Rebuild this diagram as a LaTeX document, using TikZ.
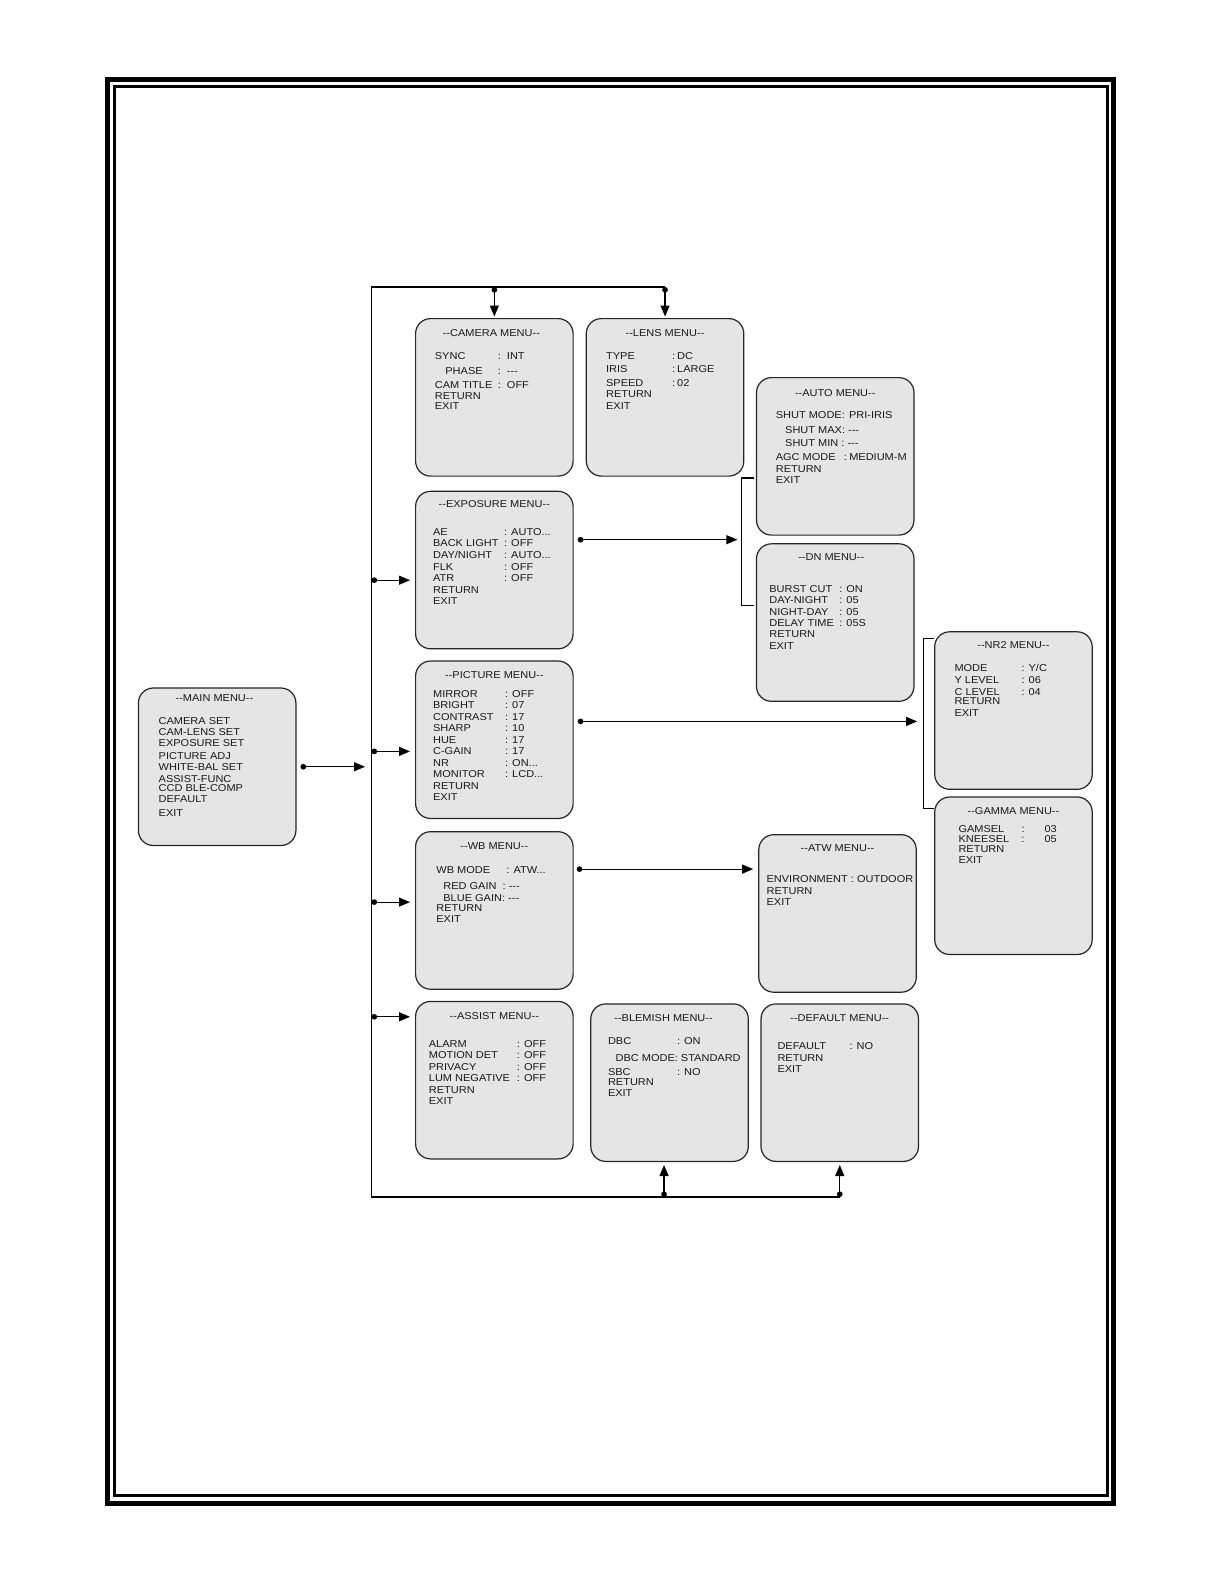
\documentclass[tikz,border=0pt]{standalone}
\usepackage{fontspec}
\usepackage{tikz}
\usetikzlibrary{arrows.meta, positioning, calc}

\newfontfamily\menufont[FakeStretch=1.1]{Liberation Sans}
% rows of a menu: baseline skip, label column width, rows
\newcommand\menurows[3]{\fontsize{5}{#1}\selectfont\begin{tabular}[t]{@{}p{#2}@{}l@{}}#3\end{tabular}}

\begin{document}
\begin{tikzpicture}[
    x=0.5pt, y=-0.5pt,
    menubox/.style={rectangle, draw=black!85, fill=black!10, line width=0.6pt, rounded corners=7.5pt, minimum width=78.75pt, minimum height=78.75pt, inner sep=0pt},
    menutitle/.style={font=\menufont\fontsize{5}{6}\selectfont, text=black!90, anchor=base, inner sep=0pt},
    menutext/.style={font=\menufont, text=black!90, anchor=base west, inner sep=0pt},
    tap/.style={{Circle[length=2.8pt]}-{Triangle[length=5.5pt, width=4.5pt]}, line width=0.6pt},
    wire/.style={line width=0.6pt}
]
\useasboundingbox (0,0) rectangle (1225,1585);

% Page frame
\draw[line width=2.5pt] (107.5,79.5) rectangle (1113.5,1503);
\draw[line width=1.5pt] (114.5,86.5) rectangle (1107,1495.5);

% Menu boxes
\node[menubox, anchor=north west] (cam) at (415,318) {};
\node[menubox, right=6pt of cam] (lens) {};
\node[menubox, below=7pt of cam] (exp) {};
\node[menubox, below=5.5pt of exp] (pic) {};
\node[menubox, below=6pt of pic] (wb) {};
\node[menubox, below=5.5pt of wb] (assist) {};
\node[menubox, right=8.25pt of assist, yshift=-1.25pt] (blemish) {};
\node[menubox, right=5.75pt of blemish] (dflt) {};
\node[menubox, below right=29.5pt and 5.75pt of lens.north east] (auto) {};
\node[menubox, below=3.75pt of auto] (dn) {};
\node[menubox, below right=44pt and 9.75pt of dn.north east] (nr2) {};
\node[menubox, below=3.25pt of nr2] (gamma) {};
\node[menubox, below right=1.5pt and 92.25pt of wb.north east] (atw) {};
\node[menubox, below left=13.5pt and 59.25pt of pic.north west] (main) {};

% Titles
\node[menutitle] (maintitle) at ([shift={(-2.7,13.6)}]main.north) {-{}-MAIN MENU-{}-};
\node[menutitle] (camtitle) at ([shift={(-3,18.6)}]cam.north) {-{}-CAMERA MENU-{}-};
\node[menutitle] (lenstitle) at ([shift={(0,18.6)}]lens.north) {-{}-LENS MENU-{}-};
\node[menutitle] (autotitle) at ([shift={(0,19)}]auto.north) {-{}-AUTO MENU-{}-};
\node[menutitle] (exptitle) at ([shift={(0,17)}]exp.north) {-{}-EXPOSURE MENU-{}-};
\node[menutitle] (dntitle) at ([shift={(-4,17.6)}]dn.north) {-{}-DN MENU-{}-};
\node[menutitle] (pictitle) at ([shift={(0,18.3)}]pic.north) {-{}-PICTURE MENU-{}-};
\node[menutitle] (nr2title) at ([shift={(0,17.6)}]nr2.north) {-{}-NR2 MENU-{}-};
\node[menutitle] (gammatitle) at ([shift={(0,18)}]gamma.north) {-{}-GAMMA MENU-{}-};
\node[menutitle] (wbtitle) at ([shift={(0,18.6)}]wb.north) {-{}-WB MENU-{}-};
\node[menutitle] (atwtitle) at ([shift={(0,17.6)}]atw.north) {-{}-ATW MENU-{}-};
\node[menutitle] (assisttitle) at ([shift={(0,18.6)}]assist.north) {-{}-ASSIST MENU-{}-};
\node[menutitle] (blemishtitle) at ([shift={(-6,18.6)}]blemish.north) {-{}-BLEMISH MENU-{}-};
\node[menutitle] (dflttitle) at ([shift={(0,18.6)}]dflt.north) {-{}-DEFAULT MENU-{}-};

% Menu items
\node[menutext] (maintext) at ([shift={(20.5,37.2)}]main.north west) {\menurows{5.55pt}{75pt}{CAMERA SET &\\ CAM-LENS SET &\\ EXPOSURE SET &\\[0.55pt] PICTURE ADJ &\\ WHITE-BAL SET &\\[0.5pt] ASSIST-FUNC &\\[-1.05pt] CCD BLE-COMP &\\ DEFAULT &\\[1.6pt] EXIT &}};
\node[menutext] (camtext) at ([shift={(19.5,41.6)}]cam.north west) {\menurows{5.3pt}{31.5pt}{SYNC & :\hspace{3pt}INT\\[1.9pt] \hspace*{5.25pt}PHASE & :\hspace{3pt}-{}-{}-\\[1.9pt] CAM TITLE & :\hspace{3pt}OFF\\ RETURN &\\ EXIT &}};
\node[menutext] (lenstext) at ([shift={(20,41.6)}]lens.north west) {\menurows{5.6pt}{33pt}{TYPE & :\hspace{1pt}DC\\[1pt] IRIS & :\hspace{1pt}LARGE\\[1.3pt] SPEED & :\hspace{1pt}02\\ RETURN &\\ EXIT &}};
\node[menutext] (autotext) at ([shift={(19.5,41.6)}]auto.north west) {\menurows{5.4pt}{34pt}{\mbox{SHUT MODE:} & \hspace{2.65pt}PRI-IRIS\\[2.1pt] \multicolumn{2}{@{}l@{}}{\hspace*{4.7pt}SHUT MAX: -{}-{}-}\\[1.1pt] \multicolumn{2}{@{}l@{}}{\hspace*{4.7pt}SHUT MIN : -{}-{}-}\\[1.6pt] AGC MODE & :\hspace{1.2pt}MEDIUM-M\\[0.6pt] RETURN &\\ EXIT &}};
\node[menutext] (exptext) at ([shift={(17.7,44.6)}]exp.north west) {\menurows{5.8pt}{35.5pt}{AE & : AUTO...\\ BACK LIGHT & : OFF\\ DAY/NIGHT & : AUTO...\\ FLK & : OFF\\ ATR & : OFF\\ RETURN &\\ EXIT &}};
\node[menutext] (dntext) at ([shift={(13,49.1)}]dn.north west) {\menurows{5.7pt}{35pt}{BURST CUT & : ON\\ DAY-NIGHT & : 05\\ NIGHT-DAY & : 05\\ DELAY TIME & : 05S\\ RETURN &\\ EXIT &}};
\node[menutext] (pictext) at ([shift={(17.7,36.9)}]pic.north west) {\menurows{5.75pt}{36pt}{MIRROR & : OFF\\ BRIGHT & : 07\\ CONTRAST & : 17\\ SHARP & : 10\\ HUE & : 17\\ C-GAIN & : 17\\ NR & : ON...\\ MONITOR & : LCD...\\ RETURN &\\ EXIT &}};
\node[menutext] (nr2text) at ([shift={(20,40.6)}]nr2.north west) {\menurows{5.75pt}{33.5pt}{MODE & : Y/C\\ Y LEVEL & : 06\\[0.35pt] C LEVEL & : 04\\[-1.05pt] RETURN &\\ EXIT &}};
\node[menutext] (gammatext) at ([shift={(24,36.1)}]gamma.north west) {\menurows{5.1pt}{31.5pt}{GAMSEL & :\hspace{10pt}03\\ KNEESEL & :\hspace{10pt}05\\ RETURN &\\ EXIT &}};
\node[menutext] (wbtext) at ([shift={(21,42.6)}]wb.north west) {\menurows{5.1pt}{35pt}{WB MODE & : ATW...\\[2.65pt] \multicolumn{2}{@{}l@{}}{\hspace*{3.5pt}RED GAIN\ \ : -{}-{}-}\\[1.15pt] \multicolumn{2}{@{}l@{}}{\hspace*{3.5pt}BLUE GAIN: -{}-{}-}\\ RETURN &\\ EXIT &}};
\node[menutext] (atwtext) at ([shift={(8,48.6)}]atw.north west) {\menurows{5.75pt}{75pt}{ENVIRONMENT : OUTDOOR &\\ RETURN &\\ EXIT &}};
\node[menutext] (assisttext) at ([shift={(13.5,46.6)}]assist.north west) {\menurows{5.7pt}{44pt}{ALARM & : OFF\\ MOTION DET & : OFF\\ PRIVACY & : OFF\\ LUM NEGATIVE & : OFF\\ RETURN &\\ EXIT &}};
\node[menutext] (blemishtext) at ([shift={(17.4,41.6)}]blemish.north west) {\menurows{5.35pt}{34.5pt}{DBC & : ON\\[3pt] \multicolumn{2}{@{}l@{}}{\hspace*{3.8pt}DBC MODE: STANDARD}\\[1.35pt] SBC & : NO\\ RETURN &\\ EXIT &}};
\node[menutext] (dflttext) at ([shift={(16.7,46.1)}]dflt.north west) {\menurows{5.8pt}{36pt}{DEFAULT & : NO\\ RETURN &\\ EXIT &}};

% Bus
\coordinate (bustop) at (371.5,287);
\coordinate (busbot) at (371.5,1197);
\draw[wire] (lens.north |- bustop) -- (bustop) -- (busbot) -- (dflt.south |- busbot);

% Arrows from the bus
\draw[tap] (cam.north |- bustop) -- ([shift={(0,-1.5)}]cam.north);
\draw[tap] (lens.north |- bustop) -- ([shift={(0,-1.5)}]lens.north);
\coordinate (blemtap) at ([shift={(-5.5,0)}]blemish.south);
\draw[tap] (blemtap |- busbot) -- ([shift={(0,3)}]blemtap);
\draw[tap] (dflt.south |- busbot) -- ([shift={(0,3)}]dflt.south);
\coordinate (expin) at ([shift={(-5,89.5)}]exp.north west);
\coordinate (picin) at ([shift={(-5,91)}]pic.north west);
\coordinate (wbin) at ([shift={(-5,71)}]wb.north west);
\coordinate (assistin) at ([shift={(-5,16)}]assist.north west);
\draw[tap] (bustop |- expin) -- (expin);
\draw[tap] (bustop |- picin) -- (picin);
\draw[tap] (bustop |- wbin) -- (wbin);
\draw[tap] (bustop |- assistin) -- (assistin);

% Main menu into the bus
\coordinate (mainout) at ([shift={(4,0)}]main.east);
\draw[tap] (mainout) -- ($(mainout -| bustop)+(-6.5,0)$);

% Brackets
\coordinate (autobr) at ([shift={(-1.5,101)}]auto.north west);
\coordinate (dnbr) at ([shift={(-1.5,62)}]dn.north west);
\draw[wire] (autobr) -- ++(-13,0) |- (dnbr);
\coordinate (nr2br) at ([shift={(0,7)}]nr2.north west);
\coordinate (gammabr) at ([shift={(0,12)}]gamma.north west);
\draw[wire] (nr2br) -- ++(-11,0) |- (gammabr);

% Arrows to sub menus
\coordinate (expout) at ([shift={(4,49)}]exp.north east);
\draw[tap] (expout) -- ($(expout -| autobr)+(-17,0)$);
\coordinate (picout) at ([shift={(4,61)}]pic.north east);
\draw[tap] (picout) -- ($(picout -| nr2br)+(-17,0)$);
\coordinate (wbout) at ([shift={(3,38)}]wb.north east);
\draw[tap] (wbout) -- ($(wbout -| atw.west)+(-5,0)$);

\end{tikzpicture}
\end{document}
